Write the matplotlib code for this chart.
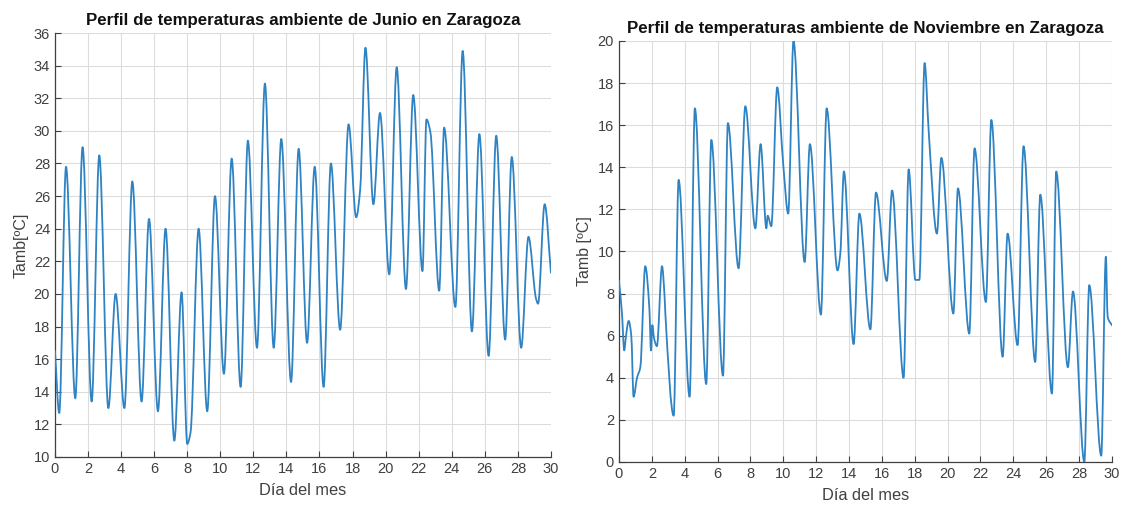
import numpy as np
import matplotlib
matplotlib.use("Agg")
import matplotlib.pyplot as plt
from matplotlib.path import Path
from matplotlib.patches import PathPatch

plt.rcParams['font.family'] = ['Liberation Sans', 'DejaVu Sans']

# ---- data (day of month, temperature at turning points) ----
jun_day = [0.0, 0.26, 0.67, 1.23, 1.67, 2.22, 2.68, 3.23, 3.67, 4.2, 4.68, 5.24, 5.69,
           6.23, 6.69, 7.22, 7.66, 8.0, 8.2, 8.69, 9.21, 9.68, 10.22, 10.69, 11.23,
           11.67, 12.22, 12.7, 13.23, 13.69, 14.28, 14.74, 15.25, 15.71, 16.25, 16.69,
           17.25, 17.76, 18.22, 18.46, 18.78, 19.26, 19.66, 20.22, 20.67, 21.23, 21.67,
           22.23, 22.47, 22.71, 23.24, 23.54, 24.22, 24.66, 25.22, 25.67, 26.23, 26.69,
           27.23, 27.63, 28.2, 28.64, 29.1, 29.22, 29.62, 30.0]
jun_temp = [16.5, 12.7, 27.8, 13.6, 29.0, 13.4, 28.5, 13.0, 20.0, 13.0, 26.9, 13.4, 24.6,
            12.8, 24.0, 11.0, 20.1, 10.8, 11.5, 24.0, 12.8, 26.0, 15.1, 28.3, 14.3,
            29.4, 16.7, 32.9, 16.7, 29.5, 14.6, 28.9, 17.0, 27.8, 14.3, 28.0,
            17.8, 30.4, 24.7, 26.4, 35.1, 25.5, 31.1, 21.2, 33.9, 20.3, 32.2,
            21.4, 30.7, 29.9, 20.2, 30.2, 19.2, 34.9, 17.7, 29.8, 16.2, 29.7,
            17.2, 28.4, 16.7, 23.5, 19.7, 19.4, 25.5, 21.3]

nov_day = [0.0, 0.18, 0.32, 0.43, 0.59, 0.75, 0.89, 1.1, 1.3, 1.6, 1.85, 1.95, 2.03,
           2.13, 2.31, 2.62, 2.78, 2.82, 3.33, 3.63, 4.3, 4.62, 5.31, 5.62, 6.33, 6.63,
           7.28, 7.69, 8.3, 8.62, 8.97, 9.05, 9.27, 9.63, 10.0, 10.3, 10.62, 11.3, 11.62,
           12.29, 12.64, 13.3, 13.47, 13.69, 14.28, 14.63, 15.3, 15.64, 16.3, 16.62,
           17.32, 17.63, 18.04, 18.28, 18.6, 18.85, 19.35, 19.62, 20.35, 20.63, 21.32,
           21.64, 22.33, 22.66, 23.35, 23.65, 24.26, 24.62, 25.33, 25.64, 26.35, 26.61,
           27.32, 27.63, 28.32, 28.62, 29.35, 29.63, 29.74, 30.0]
nov_temp = [8.6, 7.1, 5.3, 6.0, 6.7, 6.0, 3.1, 4.0, 4.5, 9.3, 7.3, 5.3, 6.5,
            5.9, 5.5, 9.3, 7.8, 7.1, 2.2, 13.4, 3.1, 16.8, 3.7, 15.3, 4.1, 16.1,
            9.2, 16.9, 11.1, 15.1, 11.1, 11.7, 11.2, 17.8, 14.1, 11.8, 20.0, 9.5, 15.1,
            7.0, 16.8, 9.1, 9.9, 13.8, 5.6, 11.8, 6.3, 12.8, 8.6, 12.9,
            4.0, 13.9, 8.65, 8.65, 18.95, 15.7, 10.85, 14.45, 7.05, 13.0, 6.1,
            14.9, 7.6, 16.25, 5.0, 10.85, 5.55, 15.0, 4.75, 12.7, 3.25, 13.8,
            4.5, 8.1, 0.0, 8.4, 0.3, 9.75, 6.9, 6.5]

jun_yticks = list(range(10, 37, 2))
nov_yticks = list(range(0, 21, 2))
xticks = list(range(0, 31, 2))

LINE = '#2f83c3'


def smooth_patch(x, y):
    """Monotone cubic (PCHIP-style) Bezier path through the given points."""
    x = np.asarray(x, float)
    y = np.asarray(y, float)
    h = np.diff(x)
    d = np.diff(y) / h
    m = np.zeros_like(y)
    for k in range(1, len(y) - 1):
        if d[k - 1] * d[k] > 0:
            w1 = 2 * h[k] + h[k - 1]
            w2 = h[k] + 2 * h[k - 1]
            m[k] = (w1 + w2) / (w1 / d[k - 1] + w2 / d[k])
    m[0] = d[0]
    m[-1] = d[-1]
    verts = [(x[0], y[0])]
    codes = [Path.MOVETO]
    for k in range(len(h)):
        verts += [(x[k] + h[k] / 3, y[k] + m[k] * h[k] / 3),
                  (x[k + 1] - h[k] / 3, y[k + 1] - m[k + 1] * h[k] / 3),
                  (x[k + 1], y[k + 1])]
        codes += [Path.CURVE4] * 3
    return PathPatch(Path(verts, codes), fill=False, edgecolor=LINE, lw=1.3,
                     capstyle='round', joinstyle='round', zorder=3)


def style(ax, yticks, title, ylabel):
    ax.set_xlim(0, 30)
    ax.set_ylim(yticks[0], yticks[-1])
    ax.set_xticks(xticks)
    ax.set_yticks(yticks)
    ax.grid(True, color='#dcdcdc', lw=0.8)
    ax.set_axisbelow(True)
    for s in ('top', 'right'):
        ax.spines[s].set_visible(False)
    for s in ('left', 'bottom'):
        ax.spines[s].set_color('#404040')
        ax.spines[s].set_linewidth(0.9)
    ax.tick_params(direction='in', length=4, width=0.8, colors='#404040',
                   labelsize=10.5, labelcolor='#404040')
    ax.set_title(title, fontsize=12.2, fontweight='bold', color='#111111', pad=6)
    ax.set_xlabel('Día del mes', fontsize=11.8, color='#404040', labelpad=5)
    ax.set_ylabel(ylabel, fontsize=11.5, color='#404040', labelpad=4)


fig = plt.figure(figsize=(11.26, 5.08), dpi=100)
ax1 = fig.add_axes([0.0488, 0.1004, 0.4405, 0.8346])
ax2 = fig.add_axes([0.5497, 0.0906, 0.4378, 0.8287])

ax1.add_patch(smooth_patch(jun_day, jun_temp))
style(ax1, jun_yticks, 'Perfil de temperaturas ambiente de Junio en Zaragoza', 'Tamb[ºC]')

ax2.add_patch(smooth_patch(nov_day, nov_temp))
style(ax2, nov_yticks, 'Perfil de temperaturas ambiente de Noviembre en Zaragoza', 'Tamb [ºC]')

fig.savefig('out.png', dpi=100)
